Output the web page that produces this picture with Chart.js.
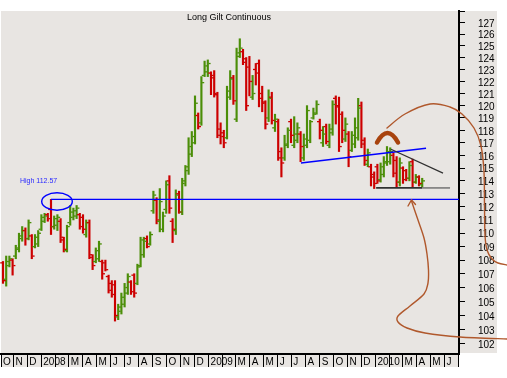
<!DOCTYPE html>
<html>
<head>
<meta charset="utf-8">
<script src="https://cdn.jsdelivr.net/npm/chart.js@4.4.1/dist/chart.umd.min.js"></script>
<style>
  html, body { margin: 0; padding: 0; background: #fff; }
  canvas { display: block; }
</style>
</head>
<body>
<canvas id="chart" width="507" height="378"></canvas>
<script>
// Long Gilt continuous, weekly OHLC bars, first bar week of 12 Oct 2007
const firstWeek = new Date(2007, 9, 12);

const opens = [
  107.8, 106.6, 107.6, 108.0, 108.3, 108.8, 109.6, 110.2, 109.6, 109.8,
  109.0, 109.2, 110.3, 110.9, 111.4, 111.8, 110.5, 110.6, 110.9, 109.5,
  108.7, 110.8, 111.2, 111.3, 111.4, 111.2, 109.9, 110.8, 108.2, 107.9,
  108.1, 107.9, 107.8, 106.8, 106.3, 106.2, 103.9, 104.3, 104.8, 105.6,
  106.4, 106.9, 106.3, 107.6, 108.4, 109.6, 109.2, 111.7, 112.5, 110.9,
  110.3, 111.8, 114.0, 110.9, 110.2, 113.0, 111.6, 113.8, 114.8, 116.1,
  117.0, 119.2, 118.6, 122.5, 122.8, 122.7, 122.5, 121.0, 118.1, 117.8,
  117.4, 120.7, 122.3, 118.9, 124.1, 124.5, 123.6, 123.2, 120.7, 123.0,
  123.5, 121.0, 120.2, 119.0, 120.7, 118.2, 118.7, 116.3, 115.8, 116.8,
  118.7, 116.8, 117.2, 117.7, 115.8, 116.8, 117.2, 119.0, 119.4, 118.7,
  117.0, 118.3, 116.8, 117.8, 120.6, 120.0, 119.3, 117.3, 117.7, 116.4,
  116.9, 117.4, 120.0, 117.2, 115.3, 115.1, 114.5, 115.1, 114.1, 114.5,
  115.4, 115.5, 116.0, 115.6, 113.9, 115.0, 114.8, 114.2, 115.5, 113.9, 114.3, 113.7
];
const highs = [
  107.9, 108.3, 108.3, 108.1, 109.1, 110.0, 110.5, 110.4, 111.0, 109.9,
  109.9, 110.2, 111.4, 111.5, 111.5, 112.57, 111.3, 111.4, 111.1, 109.7,
  110.6, 112.1, 111.9, 112.1, 111.5, 111.4, 111.0, 111.0, 108.4, 108.9,
  109.4, 108.0, 108.0, 106.9, 106.5, 106.5, 104.8, 105.6, 106.3, 107.0,
  106.5, 107.0, 107.7, 109.7, 109.7, 109.8, 110.1, 113.2, 112.7, 113.4,
  111.6, 114.0, 114.4, 111.1, 113.3, 113.2, 114.2, 115.2, 117.4, 117.9,
  120.8, 119.4, 122.4, 123.7, 123.8, 122.8, 122.9, 121.1, 118.6, 118.0,
  121.6, 122.9, 122.5, 124.8, 125.6, 124.7, 124.0, 124.1, 122.5, 123.5,
  123.8, 121.6, 120.4, 121.3, 121.1, 119.3, 118.9, 116.6, 117.6, 118.2,
  118.9, 119.1, 118.6, 117.9, 117.7, 120.0, 118.8, 119.8, 120.4, 118.9,
  118.3, 118.5, 118.5, 120.4, 120.8, 120.7, 119.5, 119.0, 117.9, 117.9,
  119.0, 120.6, 120.3, 117.4, 116.5, 115.3, 114.7, 115.3, 115.4, 115.9,
  116.7, 116.6, 116.2, 115.9, 115.8, 115.1, 114.9, 115.5, 115.7, 114.5, 114.4, 114.2
];
const lows = [
  106.3, 106.1, 107.5, 106.9, 108.1, 108.6, 109.4, 109.1, 109.5, 108.1,
  108.9, 109.0, 110.2, 110.8, 110.9, 109.9, 110.3, 110.2, 109.3, 108.6,
  108.6, 110.6, 111.0, 111.1, 110.3, 110.0, 109.7, 108.1, 107.3, 107.8,
  107.9, 106.6, 107.2, 105.6, 105.3, 103.6, 103.7, 104.1, 104.6, 105.5,
  105.5, 105.3, 106.2, 107.5, 108.2, 108.9, 109.1, 111.5, 110.7, 110.1,
  110.1, 111.5, 111.5, 109.3, 109.9, 111.5, 111.4, 113.6, 114.5, 115.9,
  116.9, 118.1, 118.4, 122.4, 122.4, 120.9, 120.7, 117.4, 116.9, 116.6,
  117.3, 120.5, 120.1, 118.7, 124.0, 123.4, 119.6, 120.8, 120.5, 121.7,
  119.9, 119.5, 118.1, 118.7, 118.5, 117.9, 115.6, 114.3, 115.6, 116.6,
  117.0, 116.6, 117.0, 115.5, 115.6, 116.6, 117.0, 118.9, 119.3, 117.3,
  116.7, 116.9, 116.6, 117.6, 118.5, 116.3, 117.0, 117.1, 115.1, 116.3,
  116.6, 117.2, 116.6, 115.2, 115.1, 113.6, 113.4, 113.8, 113.9, 114.3,
  115.2, 115.3, 114.3, 113.5, 113.6, 113.8, 114.0, 114.0, 113.5, 113.8, 113.6, 113.5
];
const closes = [
  106.5, 107.9, 108.1, 107.6, 108.9, 109.8, 110.2, 109.6, 110.8, 108.3,
  109.7, 110.0, 111.2, 111.3, 111.1, 110.5, 111.1, 111.2, 109.7, 108.8,
  110.5, 111.6, 111.7, 111.9, 110.5, 110.3, 110.8, 108.4, 107.6, 108.7,
  109.2, 107.0, 107.3, 105.8, 105.5, 104.0, 104.6, 105.3, 106.0, 106.8,
  105.7, 105.6, 107.5, 109.5, 109.4, 109.0, 109.9, 112.9, 111.0, 112.4,
  111.3, 113.7, 111.9, 110.3, 112.9, 111.6, 114.0, 115.1, 116.7, 117.5,
  120.2, 118.3, 121.9, 123.3, 123.5, 122.3, 120.9, 117.6, 117.5, 117.0,
  121.2, 122.2, 120.4, 124.4, 124.8, 123.9, 120.0, 122.0, 121.0, 122.7,
  120.6, 120.3, 118.5, 120.6, 118.8, 118.9, 115.8, 115.4, 116.9, 118.0,
  117.6, 117.7, 118.2, 116.7, 117.3, 119.6, 118.7, 119.3, 120.1, 118.0,
  117.7, 117.1, 118.1, 120.1, 119.9, 116.7, 118.0, 118.5, 115.9, 117.6,
  118.2, 119.8, 116.9, 115.6, 116.2, 114.3, 113.8, 114.0, 115.1, 115.5,
  116.3, 116.3, 114.6, 113.9, 115.4, 114.1, 114.2, 115.2, 113.9, 114.3, 113.8, 114.0
];

// month axis, Oct 2007 .. Jul 2010 (Feb is hidden under the year label)
const monthLabels = [
  'O', 'N', 'D', '2008', '', 'M', 'A', 'M', 'J', 'J', 'A', 'S',
  'O', 'N', 'D', '2009', '', 'M', 'A', 'M', 'J', 'J', 'A', 'S',
  'O', 'N', 'D', '2010', '', 'M', 'A', 'M', 'J', ''
];
const yTicks = [102, 103, 104, 105, 106, 107, 108, 109, 110, 111, 112, 113, 114,
  115, 116, 117, 118, 119, 120, 121, 122, 123, 124, 125, 126, 127, 128];

const highMark = 112.57;
const risingLine = [[93.1, 115.4], [132.2, 116.56]];
const fallingLine = [[121.25, 116.48], [137.5, 114.6]];
const supportLevel = 113.45;

const xMin = -0.625, xMax = 142.5;
const yMin = 101.3, yMax = 128;

const GREEN = '#4b8e08';
const RED = '#cc0000';
const FONT = 'Arial, "Liberation Sans", sans-serif';

const WEEK = 7 * 24 * 3600 * 1000;
const monthTicks = monthLabels.map((l, k) => {
  const d = new Date(2007, 9 + k, 1);
  return Math.max(xMin, (d - firstWeek) / WEEK + 0.4);
});

const barColor = (i) => (closes[i] >= opens[i] ? GREEN : RED);

// backdrop: white page, grey panel
const frame = {
  id: 'frame',
  beforeDraw(chart) {
    const c = chart.ctx;
    c.save();
    c.fillStyle = '#ffffff';
    c.fillRect(0, 0, chart.width, chart.height);
    c.fillStyle = '#e8e5e2';
    c.fillRect(1, 11, 496, 342);
    c.fillRect(1, 353, 458, 14);
    c.restore();
  }
};

// open tick on the left, close tick on the right
const ohlcTicks = {
  id: 'ohlcTicks',
  afterDatasetsDraw(chart) {
    const { ctx, scales: { x, y } } = chart;
    ctx.save();
    opens.forEach((o, i) => {
      const px = x.getPixelForValue(i);
      ctx.fillStyle = barColor(i);
      ctx.fillRect(px - 2.8, y.getPixelForValue(o) - 0.6, 2.1, 1.3);
      ctx.fillRect(px + 0.7, y.getPixelForValue(closes[i]) - 0.6, 2.1, 1.3);
    });
    ctx.restore();
  }
};

function smooth(c, pts) {
  c.beginPath();
  c.moveTo(pts[0][0], pts[0][1]);
  for (let i = 0; i < pts.length - 1; i++) {
    const p0 = pts[i - 1] || pts[i], p1 = pts[i], p2 = pts[i + 1], p3 = pts[i + 2] || p2;
    c.bezierCurveTo(p1[0] + (p2[0] - p0[0]) / 6, p1[1] + (p2[1] - p0[1]) / 6,
      p2[0] - (p3[0] - p1[0]) / 6, p2[1] - (p3[1] - p1[1]) / 6, p2[0], p2[1]);
  }
  c.stroke();
}

// hand drawn notes on top of the chart
const notes = {
  id: 'notes',
  afterDraw(chart) {
    const { ctx: c, scales: { x, y }, chartArea } = chart;
    const seg = (a, b) => {
      c.beginPath();
      c.moveTo(x.getPixelForValue(a[0]), y.getPixelForValue(a[1]));
      c.lineTo(x.getPixelForValue(b[0]), y.getPixelForValue(b[1]));
      c.stroke();
    };
    c.save();

    c.fillStyle = '#000';
    c.font = '9px ' + FONT;
    c.textBaseline = 'middle';
    c.fillText('Long Gilt Continuous', 187, 17.5);

    // old high
    c.strokeStyle = '#0000ff';
    c.lineWidth = 1.4;
    const hy = y.getPixelForValue(highMark);
    c.beginPath();
    c.moveTo(x.getPixelForValue(15), hy);
    c.lineTo(chartArea.right, hy);
    c.stroke();
    c.beginPath();
    c.ellipse(57, 201.5, 15.3, 8.8, 0, 0, Math.PI * 2);
    c.stroke();
    c.fillStyle = '#2a2aff';
    c.font = '7px ' + FONT;
    c.fillText('High 112.57', 20, 181.5);

    // rising trend line
    c.lineWidth = 1.5;
    seg(risingLine[0], risingLine[1]);

    // falling line and support
    c.strokeStyle = '#303030';
    c.lineWidth = 1.2;
    seg(fallingLine[0], fallingLine[1]);
    c.lineWidth = 1.6;
    seg([116.6, supportLevel], [131, supportLevel]);
    c.strokeStyle = '#7a7a7a';
    seg([131, supportLevel], [139.7, supportLevel]);

    // brown chevron
    c.strokeStyle = '#a8430e';
    c.lineWidth = 4.5;
    c.lineCap = 'round';
    c.beginPath();
    c.moveTo(377, 142.5);
    c.quadraticCurveTo(387.5, 123.5, 398, 142.5);
    c.stroke();

    // brown freehand curves
    c.strokeStyle = '#b0582c';
    c.lineWidth = 1.4;
    smooth(c, [[387, 128], [405, 114], [430, 104], [450, 107], [462, 114], [474, 128],
      [481, 146], [484, 172], [484.5, 205], [485, 235], [487, 250], [492, 259], [498, 263], [507, 265]]);
    smooth(c, [[411.5, 201], [418, 220], [424, 238], [427, 254], [428.5, 270], [428, 283],
      [424, 294], [410, 306], [398, 316], [398, 322], [407, 328], [425, 333], [460, 337], [507, 339]]);
    c.beginPath();
    c.moveTo(408, 206);
    c.lineTo(411.5, 200);
    c.lineTo(415.5, 204.5);
    c.stroke();

    c.restore();
  }
};

new Chart(document.getElementById('chart'), {
  type: 'bar',
  data: {
    datasets: [{
      data: highs.map((h, i) => ({ x: i, y: [lows[i], h] })),
      backgroundColor: highs.map((h, i) => barColor(i)),
      barThickness: 1.5,
      borderWidth: 0
    }]
  },
  options: {
    responsive: false,
    animation: false,
    events: [],
    layout: { padding: { left: 1, top: 11, right: 0, bottom: 0 } },
    plugins: {
      legend: { display: false },
      tooltip: { enabled: false },
      title: { display: false }
    },
    scales: {
      x: {
        type: 'linear',
        min: xMin,
        max: xMax,
        bounds: 'data',
        offset: false,
        afterBuildTicks: (s) => { s.ticks = monthTicks.map((v) => ({ value: v })); },
        afterFit: (s) => { s.height = 24; s.paddingLeft = 0; s.paddingRight = 0; },
        grid: { drawOnChartArea: false, offset: false, tickLength: 13, color: '#000', lineWidth: 1 },
        border: { color: '#000', width: 2 },
        ticks: {
          autoSkip: false, maxRotation: 0, minRotation: 0,
          align: 'start', labelOffset: 2, padding: -11,
          color: '#000', font: { family: FONT, size: 10 },
          callback: (v, i) => monthLabels[i]
        }
      },
      y: {
        type: 'logarithmic',
        position: 'right',
        min: yMin,
        max: yMax,
        bounds: 'data',
        beginAtZero: false,
        afterBuildTicks: (s) => { s.ticks = yTicks.map((v) => ({ value: v })); },
        afterFit: (s) => { s.width = 48; s.paddingTop = 0; s.paddingBottom = 0; },
        grid: { drawOnChartArea: false, tickLength: 6, color: '#000', lineWidth: 1 },
        border: { color: '#000', width: 2 },
        ticks: {
          autoSkip: false, padding: 13, labelOffset: 1.5,
          color: '#000', font: { family: FONT, size: 10 },
          callback: (v) => (v === 128 ? '' : String(v))
        }
      }
    }
  },
  plugins: [frame, ohlcTicks, notes]
});
</script>
</body>
</html>
